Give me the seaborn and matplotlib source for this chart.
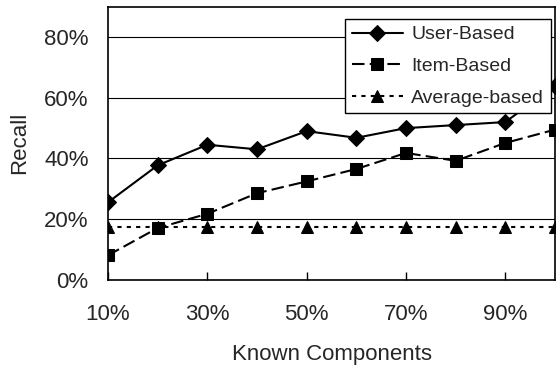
import matplotlib
matplotlib.use("Agg")
import matplotlib.pyplot as plt
import seaborn as sns
import pandas as pd
from matplotlib.ticker import FuncFormatter

known = [10, 20, 30, 40, 50, 60, 70, 80, 90, 100]
user_based = [25.5, 37.7, 44.5, 43.0, 49.0, 46.8, 50.0, 51.0, 52.0, 64.0]
item_based = [8.0, 17.0, 21.7, 28.5, 32.4, 36.5, 41.8, 39.2, 45.1, 49.5]
average_based = [17.5, 17.5, 17.5, 17.5, 17.5, 17.5, 17.5, 17.5, 17.5, 17.5]

sns.set_theme(style="white")
plt.rcParams["font.family"] = ["Liberation Sans", "DejaVu Sans"]

fig = plt.figure(figsize=(5.56, 3.65), dpi=100)
ax = fig.add_axes([108 / 556, 1 - 279.5 / 365, (555 - 108) / 556, (279.5 - 7) / 365])

series = [
    ("User-Based", user_based, "D", None),
    ("Item-Based", item_based, "s", (6, 2.5)),
    ("Average-based", average_based, "^", (2, 2.5)),
]
for name, vals, mk, dash in series:
    df = pd.DataFrame({"Known": known, "Recall": vals})
    sns.lineplot(x="Known", y="Recall", data=df, ax=ax, color="black",
                 marker=mk, markersize=8, markeredgecolor="black",
                 linewidth=1.5, label=name)
    line = ax.lines[-1]
    if dash is not None:
        line.set_dashes(dash)

ax.set_xlim(10, 100)
ax.set_ylim(0, 90)
ax.set_xticks([10, 30, 50, 70, 90])
ax.set_yticks([0, 20, 40, 60, 80])
pct = FuncFormatter(lambda v, p: f"{v:.0f}%")
ax.xaxis.set_major_formatter(pct)
ax.yaxis.set_major_formatter(pct)
ax.yaxis.grid(True, color="black", linewidth=0.8)
ax.set_axisbelow(True)
for s in ax.spines.values():
    s.set_color("black")
    s.set_linewidth(1.2)
ax.tick_params(axis="x", direction="in", length=6, width=1, color="black",
               bottom=True, labelsize=16, pad=18)
ax.tick_params(axis="y", length=0, labelsize=16, pad=14)
ax.set_xlabel("Known Components", fontsize=16, labelpad=13)
ax.set_ylabel("Recall", fontsize=16, labelpad=10)

leg = ax.legend(loc="upper right", bbox_to_anchor=(0.991, 0.956), fontsize=14,
                frameon=True, fancybox=False, edgecolor="black", framealpha=1,
                handlelength=2.6, handletextpad=0.45, borderpad=0.35, labelspacing=0.72,
                borderaxespad=0)
leg.get_frame().set_linewidth(1.0)

fig.savefig("out.png", dpi=100)
